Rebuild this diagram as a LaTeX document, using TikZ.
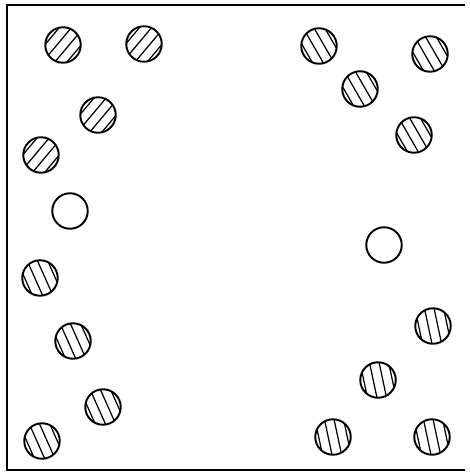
\documentclass[tikz,border=0pt]{standalone}
\usetikzlibrary{positioning}

\begin{document}
\begin{tikzpicture}[x=0.02cm, y=-0.02cm,
    ball/.style={draw, circle, line width=1.1pt, minimum size=0.71cm, inner sep=0pt},
    hatch/.style={line width=0.7pt},
    frame/.style={line width=0.9pt},
  ]
  \useasboundingbox (0,0) rectangle (469,472);
  % Frame (open on the right)
  \draw[frame] (465,5) -- (7,5) -- (7,470) -- (465,470);
  \draw[line width=1.2pt] (465,5) -- (7,5);
  % Hatched balls: name / x / y / tilt of the lines
  \foreach \n/\x/\y/\a in {
      tl1/63/45/-40, tl2/144/44/-40, tl3/98/115/-40, tl4/41/155/-40,
      tr1/319/46/30, tr2/430/54/30, tr3/360/89/30, tr4/414/135/30,
      bl1/40/278/24, bl2/73/341/24, bl3/103/407/24, bl4/42/441/24,
      br1/433/326/12, br2/378/380/12, br3/333/437/12, br4/432/437/12} {
    \node[ball] (\n) at (\x,\y) {};
    \begin{scope}[shift={(\n.center)}, rotate=\a]
      \clip (0,0) circle (0.355cm);
      \foreach \d in {-14,-4.7,4.7,14}
        \draw[hatch] (\d,-20) -- (\d,20);
    \end{scope}
  }
  % Open balls
  \node[ball] (ol) at (70,211) {};
  \node[ball] (or) at (384,245) {};
\end{tikzpicture}
\end{document}
